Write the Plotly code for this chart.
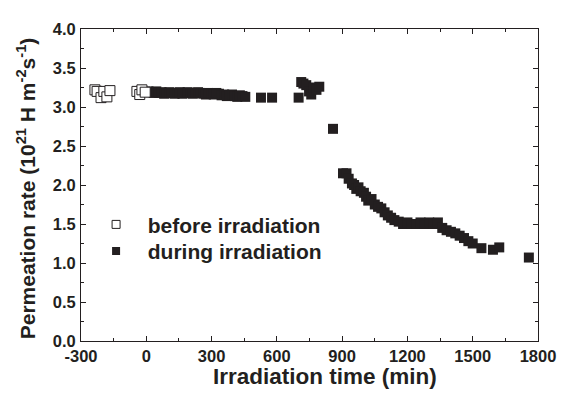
import plotly.graph_objects as go

# before irradiation (open squares)
before_t = [-236, -226, -208, -195, -181, -167, -43, -30, -20, -5]
before_v = [3.22, 3.20, 3.12, 3.20, 3.13, 3.21, 3.20, 3.16, 3.22, 3.19]

# during irradiation (filled squares)
during_t = [10, 22, 34, 46, 58, 70, 82, 94, 106, 118, 130, 142, 154, 166, 178,
            190, 202, 214, 226, 238, 250, 262, 274, 286, 298, 310, 322, 334, 346,
            358, 370, 382, 394, 406, 418, 430, 442, 455, 527, 578,
            700, 712, 722, 735, 748, 758, 770, 782, 795,
            858,
            904, 920, 930, 945, 955, 965, 975, 985, 1000, 1010, 1020, 1035, 1050,
            1065, 1080, 1095, 1110, 1125, 1140, 1160, 1180, 1200, 1220, 1240,
            1260, 1280, 1300, 1320, 1340, 1360, 1380, 1400, 1420, 1440, 1460,
            1480, 1500, 1540, 1593, 1622, 1758]
during_v = [3.20, 3.19, 3.18, 3.20, 3.18, 3.19, 3.17, 3.18, 3.19, 3.18, 3.17, 3.18,
            3.19, 3.17, 3.18, 3.19, 3.18, 3.17, 3.18, 3.19, 3.18, 3.17, 3.16, 3.18,
            3.17, 3.16, 3.18, 3.17, 3.15, 3.16, 3.14, 3.15, 3.16, 3.14, 3.13, 3.15,
            3.14, 3.13, 3.12, 3.12,
            3.12, 3.32, 3.30, 3.28, 3.20, 3.16, 3.25, 3.22, 3.26,
            2.72,
            2.15, 2.15, 2.08, 2.02, 2.00, 1.95, 1.97, 1.92, 1.90, 1.85, 1.80, 1.82,
            1.75, 1.72, 1.70, 1.65, 1.61, 1.58, 1.55, 1.53, 1.50, 1.52, 1.50, 1.50,
            1.52, 1.50, 1.52, 1.50, 1.52, 1.45, 1.42, 1.40, 1.38, 1.35, 1.32,
            1.28, 1.25, 1.19, 1.17, 1.20, 1.07]

x_ticks = [-300, 0, 300, 600, 900, 1200, 1500, 1800]
y_ticks = [0.0, 0.5, 1.0, 1.5, 2.0, 2.5, 3.0, 3.5, 4.0]

INK = "#231f20"
FONT = "Liberation Sans, Arial, Helvetica, sans-serif"

fig = go.Figure()
fig.add_trace(go.Scatter(
    x=during_t, y=during_v, mode="markers", showlegend=False,
    marker=dict(symbol="square", size=10, color=INK, line=dict(width=0))))
fig.add_trace(go.Scatter(
    x=before_t, y=before_v, mode="markers", showlegend=False,
    marker=dict(symbol="square", size=10, color="white", line=dict(width=1, color=INK))))
# legend entries (one legend box per row for exact placement)
fig.add_trace(go.Scatter(
    x=[None], y=[None], mode="markers", name="\u00a0\u00a0before irradiation",
    legend="legend",
    marker=dict(symbol="square", size=8, color="white", line=dict(width=1, color=INK))))
fig.add_trace(go.Scatter(
    x=[None], y=[None], mode="markers", name="\u00a0\u00a0during irradiation",
    legend="legend2",
    marker=dict(symbol="square", size=8, color=INK, line=dict(width=0))))

axis_common = dict(
    showline=True, linecolor=INK, linewidth=1, mirror="ticks",
    ticks="inside", ticklen=5, tickwidth=1, tickcolor=INK,
    showgrid=False, zeroline=False,
    tickfont=dict(family=FONT, size=16.5, color=INK),
)

fig.update_xaxes(range=[-300, 1800], tickvals=x_ticks,
                 ticktext=[f"<b>{v}</b>" for v in x_ticks],
                 minor=dict(ticks="inside", ticklen=3, tickwidth=1, tickcolor=INK, dtick=150, tick0=-300, showgrid=False),
                 ticklabelstandoff=0, **axis_common)
fig.update_yaxes(range=[0, 4], tickvals=y_ticks,
                 ticktext=[f"<b>{v:.1f}</b>" for v in y_ticks],
                 minor=dict(ticks="inside", ticklen=3, tickwidth=1, tickcolor=INK, dtick=0.25, tick0=0, showgrid=False),
                 ticklabelstandoff=1, **axis_common)

fig.add_annotation(text="<b>Irradiation time (min)</b>", xref="paper", yref="paper",
                   x=0.535, y=-0.113, xanchor="center", yanchor="middle", showarrow=False,
                   font=dict(family=FONT, size=22.5, color=INK))
fig.add_annotation(text="<b>Permeation rate (10<sup>21</sup> H m<sup>-2</sup>s<sup>-1</sup>)</b>",
                   xref="paper", yref="paper", x=-0.12, y=0.49, xanchor="center", yanchor="middle",
                   textangle=-90, showarrow=False,
                   font=dict(family=FONT, size=21, color=INK))

legend_font = dict(family=FONT, size=21, color=INK, weight="bold")
fig.update_layout(
    width=566, height=396,
    margin=dict(l=73, r=36, t=15, b=63),
    paper_bgcolor="white", plot_bgcolor="white",
    legend=dict(x=0.033, y=0.3726, xanchor="left", yanchor="middle",
                bgcolor="rgba(0,0,0,0)", borderwidth=0, font=legend_font),
    legend2=dict(x=0.033, y=0.2877, xanchor="left", yanchor="middle",
                 bgcolor="rgba(0,0,0,0)", borderwidth=0, font=legend_font),
)

fig.write_html("out.html")
